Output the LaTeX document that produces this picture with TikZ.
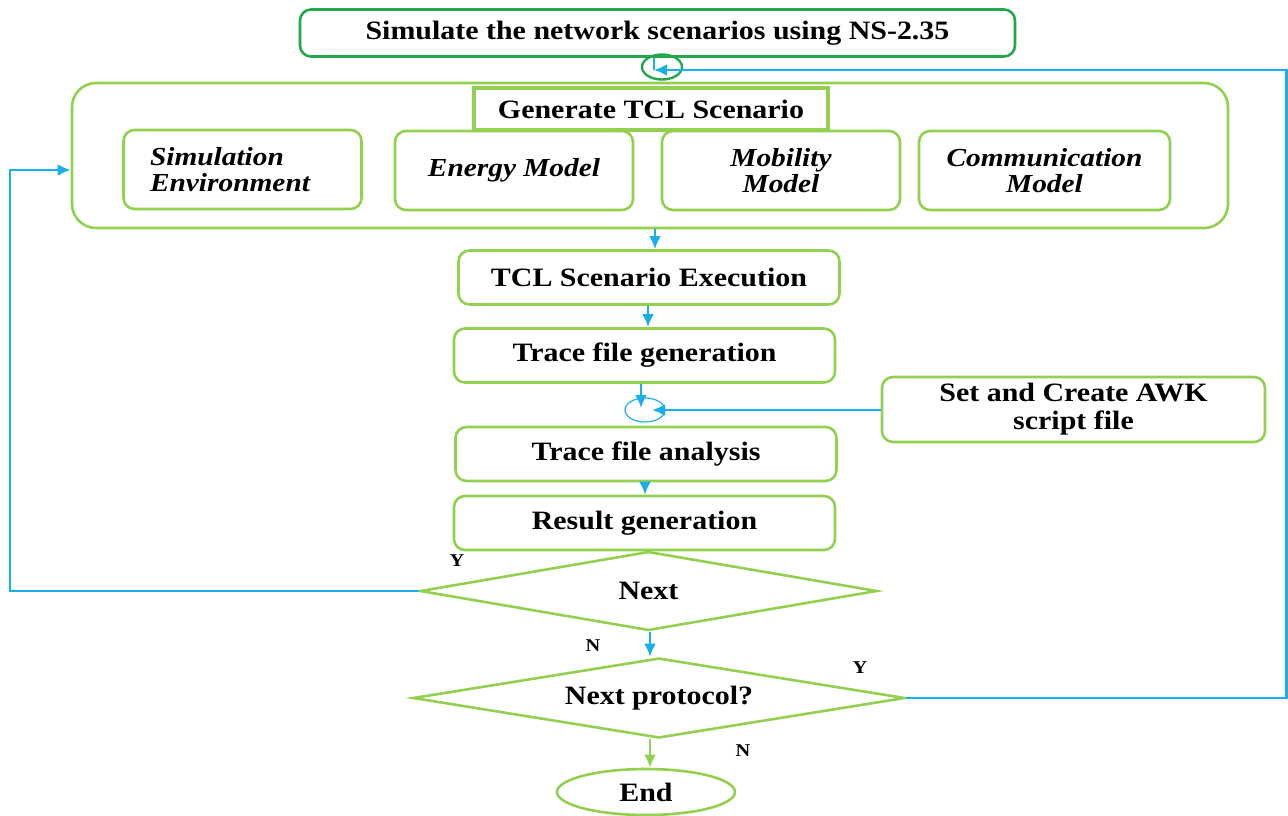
\documentclass[tikz,border=0pt]{standalone}
\usepackage{fontspec}
\setmainfont{Liberation Serif}[FakeStretch=1.13]
\usepackage{xcolor}
\definecolor{flow_green}{HTML}{92D050}
\definecolor{top_green}{HTML}{22A84B}
\definecolor{flow_blue}{HTML}{1AAFEC}
\usetikzlibrary{shapes.geometric,positioning,calc,arrows.meta}
\tikzset{BOX/.style={rectangle,rounded corners=11pt,draw=flow_green,line width=2.6pt,align=center,fill=white}}
\tikzset{MODEL/.style={BOX,minimum width=238pt,minimum height=79pt,font=\fontsize{26}{26}\selectfont\bfseries\itshape}}
\tikzset{STEP/.style={BOX,minimum width=381pt,minimum height=54pt}}
\tikzset{DECIDE/.style={diamond,draw=flow_green,line width=2.6pt,align=center,inner sep=0pt,aspect=6}}
\tikzset{ARROW/.style={draw=flow_blue,line width=2.6pt,-{Latex[length=13pt,width=12pt]}}}
\tikzset{LINE/.style={draw=flow_blue,line width=2.6pt}}
\tikzset{YN/.style={font=\fontsize{18}{18}\selectfont\bfseries}}

\begin{document}
\begin{tikzpicture}[x=1pt,y=-1pt,font=\fontsize{26.5}{28}\selectfont\bfseries]
\useasboundingbox (0,0) rectangle (1288,815);

\node[BOX, draw=top_green, minimum width=715pt, minimum height=47pt] (n_sim) at (657.5,33) {Simulate the network scenarios using NS-2.35};
\node[ellipse, draw=top_green, line width=2.4pt, minimum width=40pt, minimum height=25pt, inner sep=0pt] (n_join) at (662,67) {};
\coordinate (c_join) at (654,70);

\node[BOX, rounded corners=24pt, minimum width=1156pt, minimum height=145pt] (n_scenario) at (650,155.5) {};
\node[BOX, rounded corners=0pt, line width=3.4pt, minimum width=354pt, minimum height=42pt] (n_generate) at (651,109) {Generate TCL Scenario};

\node[MODEL, text width=185pt, align=left] (n_env) at (242.5,169.5) {Simulation\\Environment};
\node[MODEL] (n_energy) at (514,170.5) {Energy Model};
\node[MODEL] (n_mobility) at (781,170.5) {Mobility\\Model};
\node[MODEL, minimum width=251pt] (n_comm) at (1044.5,170.5) {Communication\\Model};

\node[STEP] (n_exec) at (649,277.5) {TCL Scenario Execution};
\node[STEP] (n_trace) at (644.5,355.5) {Trace file generation};
\node[ellipse, draw=flow_blue, line width=1.2pt, minimum width=40pt, minimum height=24pt, inner sep=0pt] (n_awk_join) at (645,410) {};
\node[BOX, minimum width=383pt, minimum height=65pt] (n_awk) at (1073.5,409.5) {Set and Create AWK\\script file};
\node[STEP] (n_analysis) at (646,454) {Trace file analysis};
\node[STEP] (n_result) at (644.5,523) {Result generation};

\node[DECIDE, minimum width=457pt, minimum height=79pt] (n_next) at (648.5,591) {Next};
\node[DECIDE, minimum width=492pt, minimum height=80pt] (n_proto) at (659,698) {Next protocol?};
\node[ellipse, draw=flow_green, line width=2.6pt, minimum width=178pt, minimum height=46pt, inner sep=0pt] (n_end) at (646,792) {End};

\node[YN] (n_y1) at (457,561) {Y};
\node[YN] (n_n1) at (593,646) {N};
\node[YN] (n_y2) at (860,668) {Y};
\node[YN] (n_n2) at (743,751) {N};

% loop back to the top
\draw[LINE] (n_sim.south-|c_join) -- (c_join);
\draw[ARROW] (n_proto.east) -- ++(380,0) |- (c_join);
\coordinate (c_left) at (10,170);
\draw[ARROW] (n_next.west) -| (c_left) -- (n_scenario.west|-c_left);

% main flow
\draw[ARROW] (n_scenario.south-|655,0) -- (n_exec.north-|655,0);
\draw[ARROW] (n_exec.south-|648,0) -- (n_trace.north-|648,0);
\coordinate (c_awk_down) at (641,408);
\coordinate (c_awk_side) at (652,410);
\draw[ARROW] (n_trace.south-|c_awk_down) -- (c_awk_down);
\draw[ARROW] (n_awk.west|-c_awk_side) -- (c_awk_side);
\draw[ARROW] (n_analysis.south-|645,0) -- (n_result.north-|645,0);
\draw[ARROW] (n_next.south-|650,0) -- (n_proto.north-|650,0);
\draw[ARROW, draw=flow_green] (n_proto.south-|650,0) -- (n_end.north-|650,0);

\end{tikzpicture}
\end{document}
